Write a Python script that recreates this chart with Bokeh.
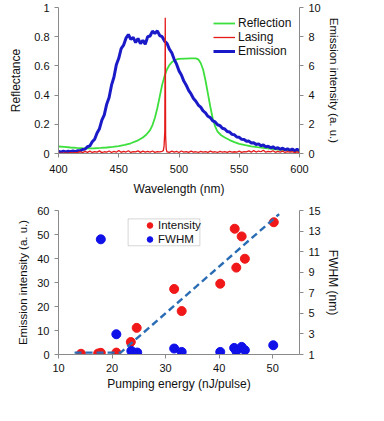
from bokeh.plotting import figure
from bokeh.layouts import column
from bokeh.models import (Range1d, LinearAxis, FixedTicker, PrintfTickFormatter,
                          Legend, LegendItem, BoxAnnotation)
from bokeh.embed import file_html
from bokeh.resources import INLINE

# ---------------- data: top chart ----------------
em_wl = list(range(400, 601, 2))
emission_au = [0.14, 0.10, 0.16, 0.11, 0.15, 0.12, 0.17, 0.13, 0.19, 0.18,
               0.27, 0.30, 0.46, 0.52, 0.80, 0.98, 1.40, 1.70, 2.28, 2.65,
               3.38, 3.84, 4.68, 5.22, 6.08, 6.52, 7.18, 7.42, 7.90, 8.15,
               7.82, 7.95, 7.60, 7.88, 7.52, 7.75, 7.48, 8.00, 8.05, 8.38,
               8.22, 8.40, 8.08, 8.00, 7.70, 7.55, 7.15, 6.90, 6.45, 6.12,
               5.66, 5.38, 4.96, 4.68, 4.32, 4.08, 3.77, 3.58, 3.32, 3.18,
               2.92, 2.78, 2.55, 2.46, 2.24, 2.16, 1.97, 1.91, 1.73, 1.68,
               1.51, 1.47, 1.31, 1.28, 1.13, 1.11, 0.97, 0.96, 0.84, 0.85,
               0.72, 0.74, 0.62, 0.66, 0.53, 0.58, 0.45, 0.50, 0.39, 0.46,
               0.33, 0.40, 0.29, 0.36, 0.25, 0.32, 0.22, 0.30, 0.19, 0.28,
               0.20]

refl_wl = [400, 405, 410, 415, 420, 425, 430, 435, 440, 445, 450, 455, 460,
           465, 470, 473, 476, 478, 480, 482, 484, 486, 488, 490, 492, 494,
           496, 498, 500, 505, 510, 514, 516, 518, 520, 522, 524, 526, 528,
           530, 532, 535, 538, 542, 546, 550, 555, 560, 565, 570, 575, 580,
           585, 590, 595, 600]
reflectance = [0.048, 0.045, 0.041, 0.038, 0.036, 0.035, 0.036, 0.038, 0.041,
               0.045, 0.051, 0.059, 0.070, 0.086, 0.110, 0.130, 0.160, 0.195,
               0.245, 0.310, 0.390, 0.470, 0.530, 0.575, 0.605, 0.625, 0.637,
               0.644, 0.648, 0.650, 0.652, 0.652, 0.645, 0.620, 0.575, 0.500,
               0.410, 0.320, 0.240, 0.185, 0.150, 0.125, 0.110, 0.092, 0.078,
               0.066, 0.057, 0.049, 0.043, 0.038, 0.033, 0.029, 0.025, 0.021,
               0.018, 0.015]

las_wl = [400, 402, 404, 406, 408, 410, 412, 414, 416, 418, 420, 422, 424, 426,
          428, 430, 432, 434, 436, 438, 440, 442, 444, 446, 448, 450, 452, 454,
          456, 458, 460, 462, 464, 466, 468, 470, 472, 474, 476, 478, 480, 482,
          484, 486, 487, 487.6, 488.2, 488.6, 488.9, 489.4, 490, 492, 494, 496,
          498, 500, 502, 504, 506, 508, 510, 512, 514, 516, 518, 520, 522, 524,
          526, 528, 530, 532, 534, 536, 538, 540, 542, 544, 546, 548, 550, 552,
          554, 556, 558, 560, 562, 564, 566, 568, 570, 572, 574, 576, 578, 580,
          582, 584, 586, 588, 590, 592, 594, 596, 598, 600]
lasing = [0.002, 0.003, 0.002, 0.004, 0.003, 0.005, 0.004, 0.006, 0.008, 0.012,
          0.006, 0.014, 0.008, 0.016, 0.007, 0.013, 0.009, 0.018, 0.006, 0.012,
          0.010, 0.017, 0.007, 0.014, 0.009, 0.020, 0.008, 0.015, 0.010, 0.019,
          0.007, 0.013, 0.011, 0.018, 0.008, 0.016, 0.009, 0.014, 0.010, 0.017,
          0.008, 0.013, 0.011, 0.015, 0.020, 0.050, 0.150, 0.930, 0.120, 0.030,
          0.012, 0.008, 0.016, 0.009, 0.014, 0.007, 0.017, 0.010, 0.013, 0.008,
          0.016, 0.009, 0.012, 0.007, 0.015, 0.010, 0.013, 0.008, 0.016, 0.009,
          0.012, 0.007, 0.014, 0.010, 0.013, 0.008, 0.015, 0.009, 0.012, 0.010,
          0.016, 0.008, 0.013, 0.011, 0.018, 0.009, 0.020, 0.010, 0.017, 0.012,
          0.022, 0.009, 0.015, 0.011, 0.019, 0.008, 0.014, 0.010, 0.016, 0.007,
          0.013, 0.009, 0.012, 0.006, 0.011, 0.005]

# ---------------- data: bottom chart ----------------
int_energy = [14.2, 17.4, 17.9, 20.8, 23.5, 24.6, 31.6, 33.0, 40.2, 42.9,
              43.2, 44.2, 44.8, 50.2]
intensity = [0.3, 0.4, 0.7, 0.8, 5.2, 11.1, 27.3, 18.1, 29.5, 52.4, 36.2,
             49.2, 39.9, 55.1]
fwhm_energy = [17.9, 20.8, 23.6, 24.7, 31.6, 33.0, 40.2, 42.8, 43.2, 44.2,
               44.8, 50.1]
fwhm = [12.2, 2.97, 1.35, 1.19, 1.58, 1.25, 1.25, 1.64, 1.35, 1.74, 1.42, 1.9]
fit_energy = [13.0, 21.6, 51.2]
fit_intensity = [0.8, 0.8, 58.5]

top_left_ticks = [0, 0.2, 0.4, 0.6, 0.8, 1]
top_right_ticks = [0, 2, 4, 6, 8, 10]
top_x_ticks = [400, 450, 500, 550, 600]
bot_left_ticks = [0, 10, 20, 30, 40, 50, 60]
bot_right_ticks = [1, 3, 5, 7, 9, 11, 13, 15]
bot_x_ticks = [10, 20, 30, 40, 50]

FONT = "Liberation Sans"
AX = "#8a8a8a"
GREEN = "#3ddf3d"
RED = "#e41a1a"
BLUE = "#1a1ac8"
PT_RED = "#f01818"
PT_BLUE = "#1010e8"
DASH = "#2a6db5"


def style_axis(ax, label_size="12px", tick_size="11px"):
    ax.axis_line_color = AX
    ax.major_tick_line_color = AX
    ax.minor_tick_line_color = None
    ax.major_tick_in = 0
    ax.major_tick_out = 4
    ax.major_label_text_font = FONT
    ax.major_label_text_font_size = tick_size
    ax.major_label_text_color = "#111111"
    ax.axis_label_text_font = FONT
    ax.axis_label_text_font_size = label_size
    ax.axis_label_text_font_style = "normal"
    ax.axis_label_text_color = "#111111"


# ---------------- top figure ----------------
p1 = figure(width=342, height=198, x_range=Range1d(400, 600), y_range=Range1d(0, 1),
            output_backend="svg", toolbar_location=None,
            min_border_left=53, min_border_right=43, min_border_top=7,
            min_border_bottom=45)
p1.extra_y_ranges = {"em": Range1d(0, 10)}
p1.xgrid.visible = False
p1.ygrid.visible = False
p1.outline_line_color = None

r_refl = p1.line(refl_wl, reflectance, line_color=GREEN, line_width=1.8)
r_em = p1.line(em_wl, emission_au, line_color=BLUE, line_width=3, y_range_name="em")
r_las = p1.line(las_wl, lasing, line_color=RED, line_width=1.3)

ax_r1 = LinearAxis(y_range_name="em", axis_label="Emission intensity (a. u.)")
p1.add_layout(ax_r1, "right")

p1.xaxis.ticker = FixedTicker(ticks=top_x_ticks)
p1.xaxis.axis_label = "Wavelength (nm)"
p1.yaxis[0].ticker = FixedTicker(ticks=top_left_ticks)
p1.yaxis[0].formatter = PrintfTickFormatter(format="%g")
p1.yaxis[0].axis_label = "Reflectance"
ax_r1.ticker = FixedTicker(ticks=top_right_ticks)
for ax in p1.xaxis:
    style_axis(ax)
    ax.major_label_standoff = 7
    ax.axis_label_standoff = 6
for ax in p1.yaxis:
    style_axis(ax)
p1.yaxis[0].axis_label_standoff = 8
ax_r1.axis_label_text_font_size = "11.5px"
ax_r1.axis_label_standoff = 4

leg1 = Legend(items=[LegendItem(label="Reflection", renderers=[r_refl]),
                     LegendItem(label="Lasing", renderers=[r_las]),
                     LegendItem(label="Emission", renderers=[r_em])],
              location=(155, 95), padding=0, margin=0, spacing=0,
              glyph_width=22, glyph_height=14, label_height=14,
              label_standoff=3, label_text_font=FONT,
              label_text_font_size="12px", label_text_color="#111111",
              border_line_color=None, background_fill_alpha=0)
p1.add_layout(leg1, "center")

# ---------------- bottom figure ----------------
p2 = figure(width=342, height=196, x_range=Range1d(10, 55), y_range=Range1d(0, 60),
            output_backend="svg", toolbar_location=None,
            min_border_left=58, min_border_right=40, min_border_top=12,
            min_border_bottom=40)
p2.extra_y_ranges = {"fw": Range1d(1, 15)}
p2.xgrid.visible = False
p2.ygrid.visible = False
p2.outline_line_color = None

r_int = p2.scatter(int_energy, intensity, size=9, fill_color=PT_RED, line_color=PT_RED)
r_fw = p2.scatter(fwhm_energy, fwhm, size=9, fill_color=PT_BLUE, line_color=PT_BLUE,
                  y_range_name="fw")
p2.line(fit_energy, fit_intensity, line_color=DASH, line_width=2.4, line_dash="7 4")

ax_r2 = LinearAxis(y_range_name="fw", axis_label="FWHM (nm)")
p2.add_layout(ax_r2, "right")
p2.xaxis.ticker = FixedTicker(ticks=bot_x_ticks)
p2.xaxis.axis_label = "Pumping energy (nJ/pulse)"
p2.yaxis[0].ticker = FixedTicker(ticks=bot_left_ticks)
p2.yaxis[0].axis_label = "Emission intensity (a. u.)"
ax_r2.ticker = FixedTicker(ticks=bot_right_ticks)
for ax in p2.xaxis:
    style_axis(ax)
    ax.major_label_standoff = 5
    ax.axis_label_standoff = 2
for ax in p2.yaxis:
    style_axis(ax)
p2.yaxis[0].axis_label_text_font_size = "11.5px"
p2.yaxis[0].axis_label_standoff = 5
ax_r2.axis_label_standoff = 2

# legend frame (layout only, in data units of the lower panel)
p2.add_layout(BoxAnnotation(left=23.0, right=36.4, top=56.5, bottom=45.3,
                            fill_alpha=0, line_color="#777777", line_width=1,
                            level="overlay"))
leg2 = Legend(items=[LegendItem(label="Intensity", renderers=[r_int]),
                     LegendItem(label="FWHM", renderers=[r_fw])],
              location=(83, 108), padding=0, margin=0, spacing=0,
              glyph_width=17, glyph_height=14, label_height=14,
              label_standoff=-4, label_text_font=FONT,
              label_text_font_size="11.5px", label_text_color="#111111",
              border_line_color=None, background_fill_alpha=0)
p2.add_layout(leg2, "center")

layout = column(p1, p2, spacing=0)
open("out.html", "w").write(file_html(layout, INLINE))
